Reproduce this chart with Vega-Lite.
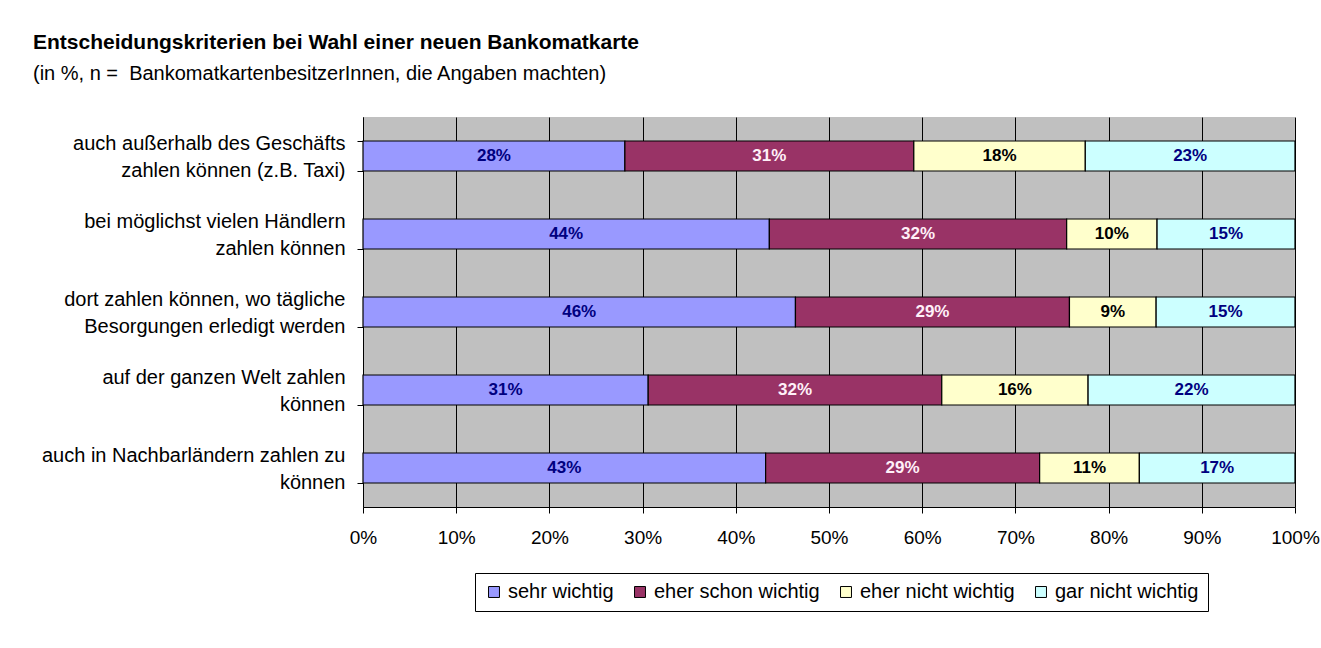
{
  "$schema": "https://vega.github.io/schema/vega-lite/v6.json",
  "width": 932,
  "height": 390,
  "autosize": {"type": "none"},
  "padding": {"left": 363, "top": 117, "right": 26, "bottom": 141},
  "background": "white",
  "title": {
    "text": "Entscheidungskriterien bei Wahl einer neuen Bankomatkarte",
    "subtitle": "(in %, n =\u00a0 BankomatkartenbesitzerInnen, die Angaben machten)",
    "anchor": "start",
    "frame": "group",
    "dx": -330,
    "offset": 23,
    "font": "Liberation Sans",
    "fontSize": 21,
    "fontWeight": "bold",
    "color": "black",
    "subtitleFont": "Liberation Sans",
    "subtitleFontSize": 20,
    "subtitleColor": "black",
    "subtitlePadding": 11
  },
  "data": {
    "values": [
      {"c": "auch außerhalb des Geschäfts\nzahlen können (z.B. Taxi)", "k": "sehr wichtig", "v": 0.281},
      {"c": "auch außerhalb des Geschäfts\nzahlen können (z.B. Taxi)", "k": "eher schon wichtig", "v": 0.310},
      {"c": "auch außerhalb des Geschäfts\nzahlen können (z.B. Taxi)", "k": "eher nicht wichtig", "v": 0.184},
      {"c": "auch außerhalb des Geschäfts\nzahlen können (z.B. Taxi)", "k": "gar nicht wichtig", "v": 0.225},
      {"c": "bei möglichst vielen Händlern\nzahlen können", "k": "sehr wichtig", "v": 0.436},
      {"c": "bei möglichst vielen Händlern\nzahlen können", "k": "eher schon wichtig", "v": 0.319},
      {"c": "bei möglichst vielen Händlern\nzahlen können", "k": "eher nicht wichtig", "v": 0.097},
      {"c": "bei möglichst vielen Händlern\nzahlen können", "k": "gar nicht wichtig", "v": 0.148},
      {"c": "dort zahlen können, wo tägliche\nBesorgungen erledigt werden", "k": "sehr wichtig", "v": 0.464},
      {"c": "dort zahlen können, wo tägliche\nBesorgungen erledigt werden", "k": "eher schon wichtig", "v": 0.294},
      {"c": "dort zahlen können, wo tägliche\nBesorgungen erledigt werden", "k": "eher nicht wichtig", "v": 0.093},
      {"c": "dort zahlen können, wo tägliche\nBesorgungen erledigt werden", "k": "gar nicht wichtig", "v": 0.149},
      {"c": "auf der ganzen Welt zahlen\nkönnen", "k": "sehr wichtig", "v": 0.306},
      {"c": "auf der ganzen Welt zahlen\nkönnen", "k": "eher schon wichtig", "v": 0.315},
      {"c": "auf der ganzen Welt zahlen\nkönnen", "k": "eher nicht wichtig", "v": 0.157},
      {"c": "auf der ganzen Welt zahlen\nkönnen", "k": "gar nicht wichtig", "v": 0.222},
      {"c": "auch in Nachbarländern zahlen zu\nkönnen", "k": "sehr wichtig", "v": 0.432},
      {"c": "auch in Nachbarländern zahlen zu\nkönnen", "k": "eher schon wichtig", "v": 0.294},
      {"c": "auch in Nachbarländern zahlen zu\nkönnen", "k": "eher nicht wichtig", "v": 0.107},
      {"c": "auch in Nachbarländern zahlen zu\nkönnen", "k": "gar nicht wichtig", "v": 0.167}
    ]
  },
  "transform": [
    {"calculate": "indexof(['sehr wichtig','eher schon wichtig','eher nicht wichtig','gar nicht wichtig'], datum.k)", "as": "ord"},
    {"stack": "v", "groupby": ["c"], "sort": [{"field": "ord", "order": "ascending"}], "as": ["x0", "x1"]},
    {"calculate": "(datum.x0 + datum.x1) / 2", "as": "xm"}
  ],
  "encoding": {
    "y": {
      "field": "c",
      "type": "nominal",
      "sort": null,
      "scale": {"paddingInner": 0.615, "paddingOuter": 0.3075},
      "axis": {
        "title": null,
        "labelExpr": "split(datum.label, '\\n')",
        "labelFont": "Liberation Sans",
        "labelFontSize": 20,
        "labelColor": "black",
        "labelAlign": "right",
        "labelPadding": 12,
        "labelLineHeight": 27,
        "labelOffset": -13,
        "labelLimit": 400,
        "tickBand": "extent",
        "tickSize": 6,
        "tickColor": "black",
        "domainColor": "black",
        "grid": false
      }
    }
  },
  "layer": [
    {
      "mark": {"type": "bar", "stroke": "black", "strokeWidth": 1.2},
      "encoding": {
        "x": {
          "field": "x0",
          "type": "quantitative",
          "scale": {"domain": [0, 1], "nice": false},
          "axis": {
            "title": null,
            "format": ".0%",
            "values": [0, 0.1, 0.2, 0.3, 0.4, 0.5, 0.6, 0.7, 0.8, 0.9, 1],
            "grid": true,
            "gridColor": "black",
            "gridOpacity": 1,
            "gridWidth": 1,
            "tickColor": "black",
            "tickSize": 6,
            "domainColor": "black",
            "labelFont": "Liberation Sans",
            "labelFontSize": 19,
            "labelColor": "black",
            "labelPadding": 15,
            "labelFlush": false
          }
        },
        "x2": {"field": "x1"},
        "color": {
          "field": "k",
          "type": "nominal",
          "sort": ["sehr wichtig", "eher schon wichtig", "eher nicht wichtig", "gar nicht wichtig"],
          "scale": {
            "domain": ["sehr wichtig", "eher schon wichtig", "eher nicht wichtig", "gar nicht wichtig"],
            "range": ["#9999FF", "#993366", "#FFFFCC", "#CCFFFF"]
          },
          "legend": {
            "title": null,
            "orient": "none",
            "direction": "horizontal",
            "legendX": 112,
            "legendY": 456,
            "symbolType": "square",
            "symbolSize": 120,
            "symbolStrokeColor": "black",
            "symbolStrokeWidth": 1,
            "symbolOpacity": 1,
            "labelFont": "Liberation Sans",
            "labelFontSize": 20,
            "labelColor": "black",
            "labelOffset": 4,
            "labelLimit": 400,
            "columnPadding": 16,
            "strokeColor": "black",
            "fillColor": "white",
            "padding": 9
          }
        }
      }
    },
    {
      "mark": {"type": "text", "font": "Liberation Sans", "fontWeight": "bold", "fontSize": 17, "baseline": "middle", "align": "center"},
      "encoding": {
        "x": {"field": "xm", "type": "quantitative"},
        "text": {"field": "v", "type": "quantitative", "format": ".0%"},
        "color": {
          "condition": [
            {"test": "datum.k === 'eher schon wichtig'", "value": "#FFF0F8"},
            {"test": "datum.k === 'eher nicht wichtig'", "value": "black"}
          ],
          "value": "#000080"
        }
      }
    }
  ],
  "config": {
    "view": {"fill": "#C0C0C0", "stroke": null}
  }
}
